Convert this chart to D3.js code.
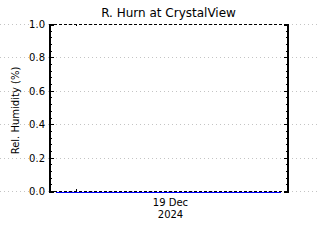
<!DOCTYPE html>
<html>
<head>
<meta charset="utf-8">
<script src="https://cdn.jsdelivr.net/npm/d3@7"></script>
<style>
  body { margin: 0; background: #fff; }
  svg { display: block; }
  text { font-family: "DejaVu Sans", sans-serif; fill: #000; }
  line, path { shape-rendering: crispEdges; }
</style>
</head>
<body>
<div id="chart"></div>
<script>
// data
var times = ["2024-12-18T21:00", "2024-12-19T06:00", "2024-12-19T12:00", "2024-12-19T18:00", "2024-12-20T00:00", "2024-12-20T07:00"];
var humidity = [-0.009, -0.009, -0.009, -0.009, -0.009, -0.009];
var yTicks = [0.0, 0.2, 0.4, 0.6, 0.8, 1.0];
var xTickTimes = ["2024-12-19T00:00"];
var dateLabel = ["19 Dec", "2024"];
var title = "R. Hurn at CrystalView";
var yLabel = "Rel. Humidity (%)";

var parse = d3.timeParse("%Y-%m-%dT%H:%M");

var svgWidth = 320, svgHeight = 240,
    margin = {top: 24, right: 32, bottom: 49, left: 49},
    vizWidth = svgWidth - margin.left - margin.right,
    vizHeight = svgHeight - margin.top - margin.bottom;

var x = d3.scaleTime()
    .domain([parse("2024-12-18T20:00"), parse("2024-12-20T08:00")])
    .range([0, vizWidth]);
var y = d3.scaleLinear([0, 1], [vizHeight, 0]);

var svg = d3.select("#chart").append("svg")
    .attr("width", svgWidth)
    .attr("height", svgHeight);

// dotted grid lines run across the whole picture
svg.append("g")
  .selectAll("line").data(yTicks).join("line")
    .attr("x1", 0).attr("x2", svgWidth)
    .attr("y1", d => margin.top + Math.round(y(d)) + 0.5)
    .attr("y2", d => margin.top + Math.round(y(d)) + 0.5)
    .attr("stroke", "#c4c4c4")
    .attr("stroke-dasharray", "1,3");

var canvas = svg.append("g")
    .attr("transform", "translate(" + margin.left + "," + margin.top + ")");

// top and bottom frame, dashed
[0, vizHeight].forEach(function(yy) {
  canvas.append("line")
      .attr("x1", 0).attr("x2", vizWidth)
      .attr("y1", yy + 0.5).attr("y2", yy + 0.5)
      .attr("stroke", "#000")
      .attr("stroke-dasharray", "3,2");
});

// left and right axes, ticks pointing inward
var minorTicks = d3.range(0, 1.0001, 0.04);
var left = d3.axisRight(y).tickValues(minorTicks).tickSize(2).tickFormat("");
var leftMajor = d3.axisRight(y).tickValues(yTicks).tickSize(4).tickFormat("");
var right = d3.axisLeft(y).tickValues(minorTicks).tickSize(2).tickFormat("");
var rightMajor = d3.axisLeft(y).tickValues(yTicks).tickSize(4).tickFormat("");

canvas.append("g").attr("transform", "translate(0.5,0)").call(left);
canvas.append("g").attr("transform", "translate(0.5,0)").call(leftMajor);
canvas.append("g").attr("transform", "translate(" + (vizWidth - 0.5) + ",0)").call(right);
canvas.append("g").attr("transform", "translate(" + (vizWidth - 0.5) + ",0)").call(rightMajor);
canvas.selectAll(".domain").attr("stroke", "#000").attr("stroke-width", 2);
canvas.selectAll(".tick line").attr("stroke", "#000");

// y tick labels
canvas.append("g")
  .selectAll("text").data(yTicks).join("text")
    .attr("x", -4)
    .attr("y", d => y(d) + 4)
    .attr("text-anchor", "end")
    .style("font-size", "10px")
    .text(d => d.toFixed(1));

// x ticks on top and bottom
var xt = xTickTimes.map(parse);
canvas.append("g").attr("transform", "translate(0," + vizHeight + ")")
    .call(d3.axisTop(x).tickValues(xt).tickSize(2).tickFormat(""))
    .call(g => g.select(".domain").remove());
canvas.append("g")
    .call(d3.axisBottom(x).tickValues(xt).tickSize(2).tickFormat(""))
    .call(g => g.select(".domain").remove());
canvas.selectAll(".tick line").attr("stroke", "#000");

// data line
var line = d3.line()
    .x((d, i) => x(parse(times[i])))
    .y(d => y(d));
canvas.append("path")
    .datum(humidity)
    .attr("d", line)
    .attr("fill", "none")
    .attr("stroke", "#0000ff")
    .attr("stroke-width", 1);

// date label under the plot
canvas.append("g")
  .selectAll("text").data(dateLabel).join("text")
    .attr("x", vizWidth / 2 + 2)
    .attr("y", (d, i) => vizHeight + 15 + i * 12)
    .attr("text-anchor", "middle")
    .style("font-size", "10px")
    .text(d => d);

// title
svg.append("text")
    .attr("x", margin.left + vizWidth / 2)
    .attr("y", 17)
    .attr("text-anchor", "middle")
    .style("font-size", "12px")
    .text(title);

// y label
svg.append("text")
    .attr("transform", "translate(19," + (margin.top + vizHeight / 2 + 3) + ") rotate(-90)")
    .attr("text-anchor", "middle")
    .style("font-size", "10px")
    .text(yLabel);
</script>
</body>
</html>
